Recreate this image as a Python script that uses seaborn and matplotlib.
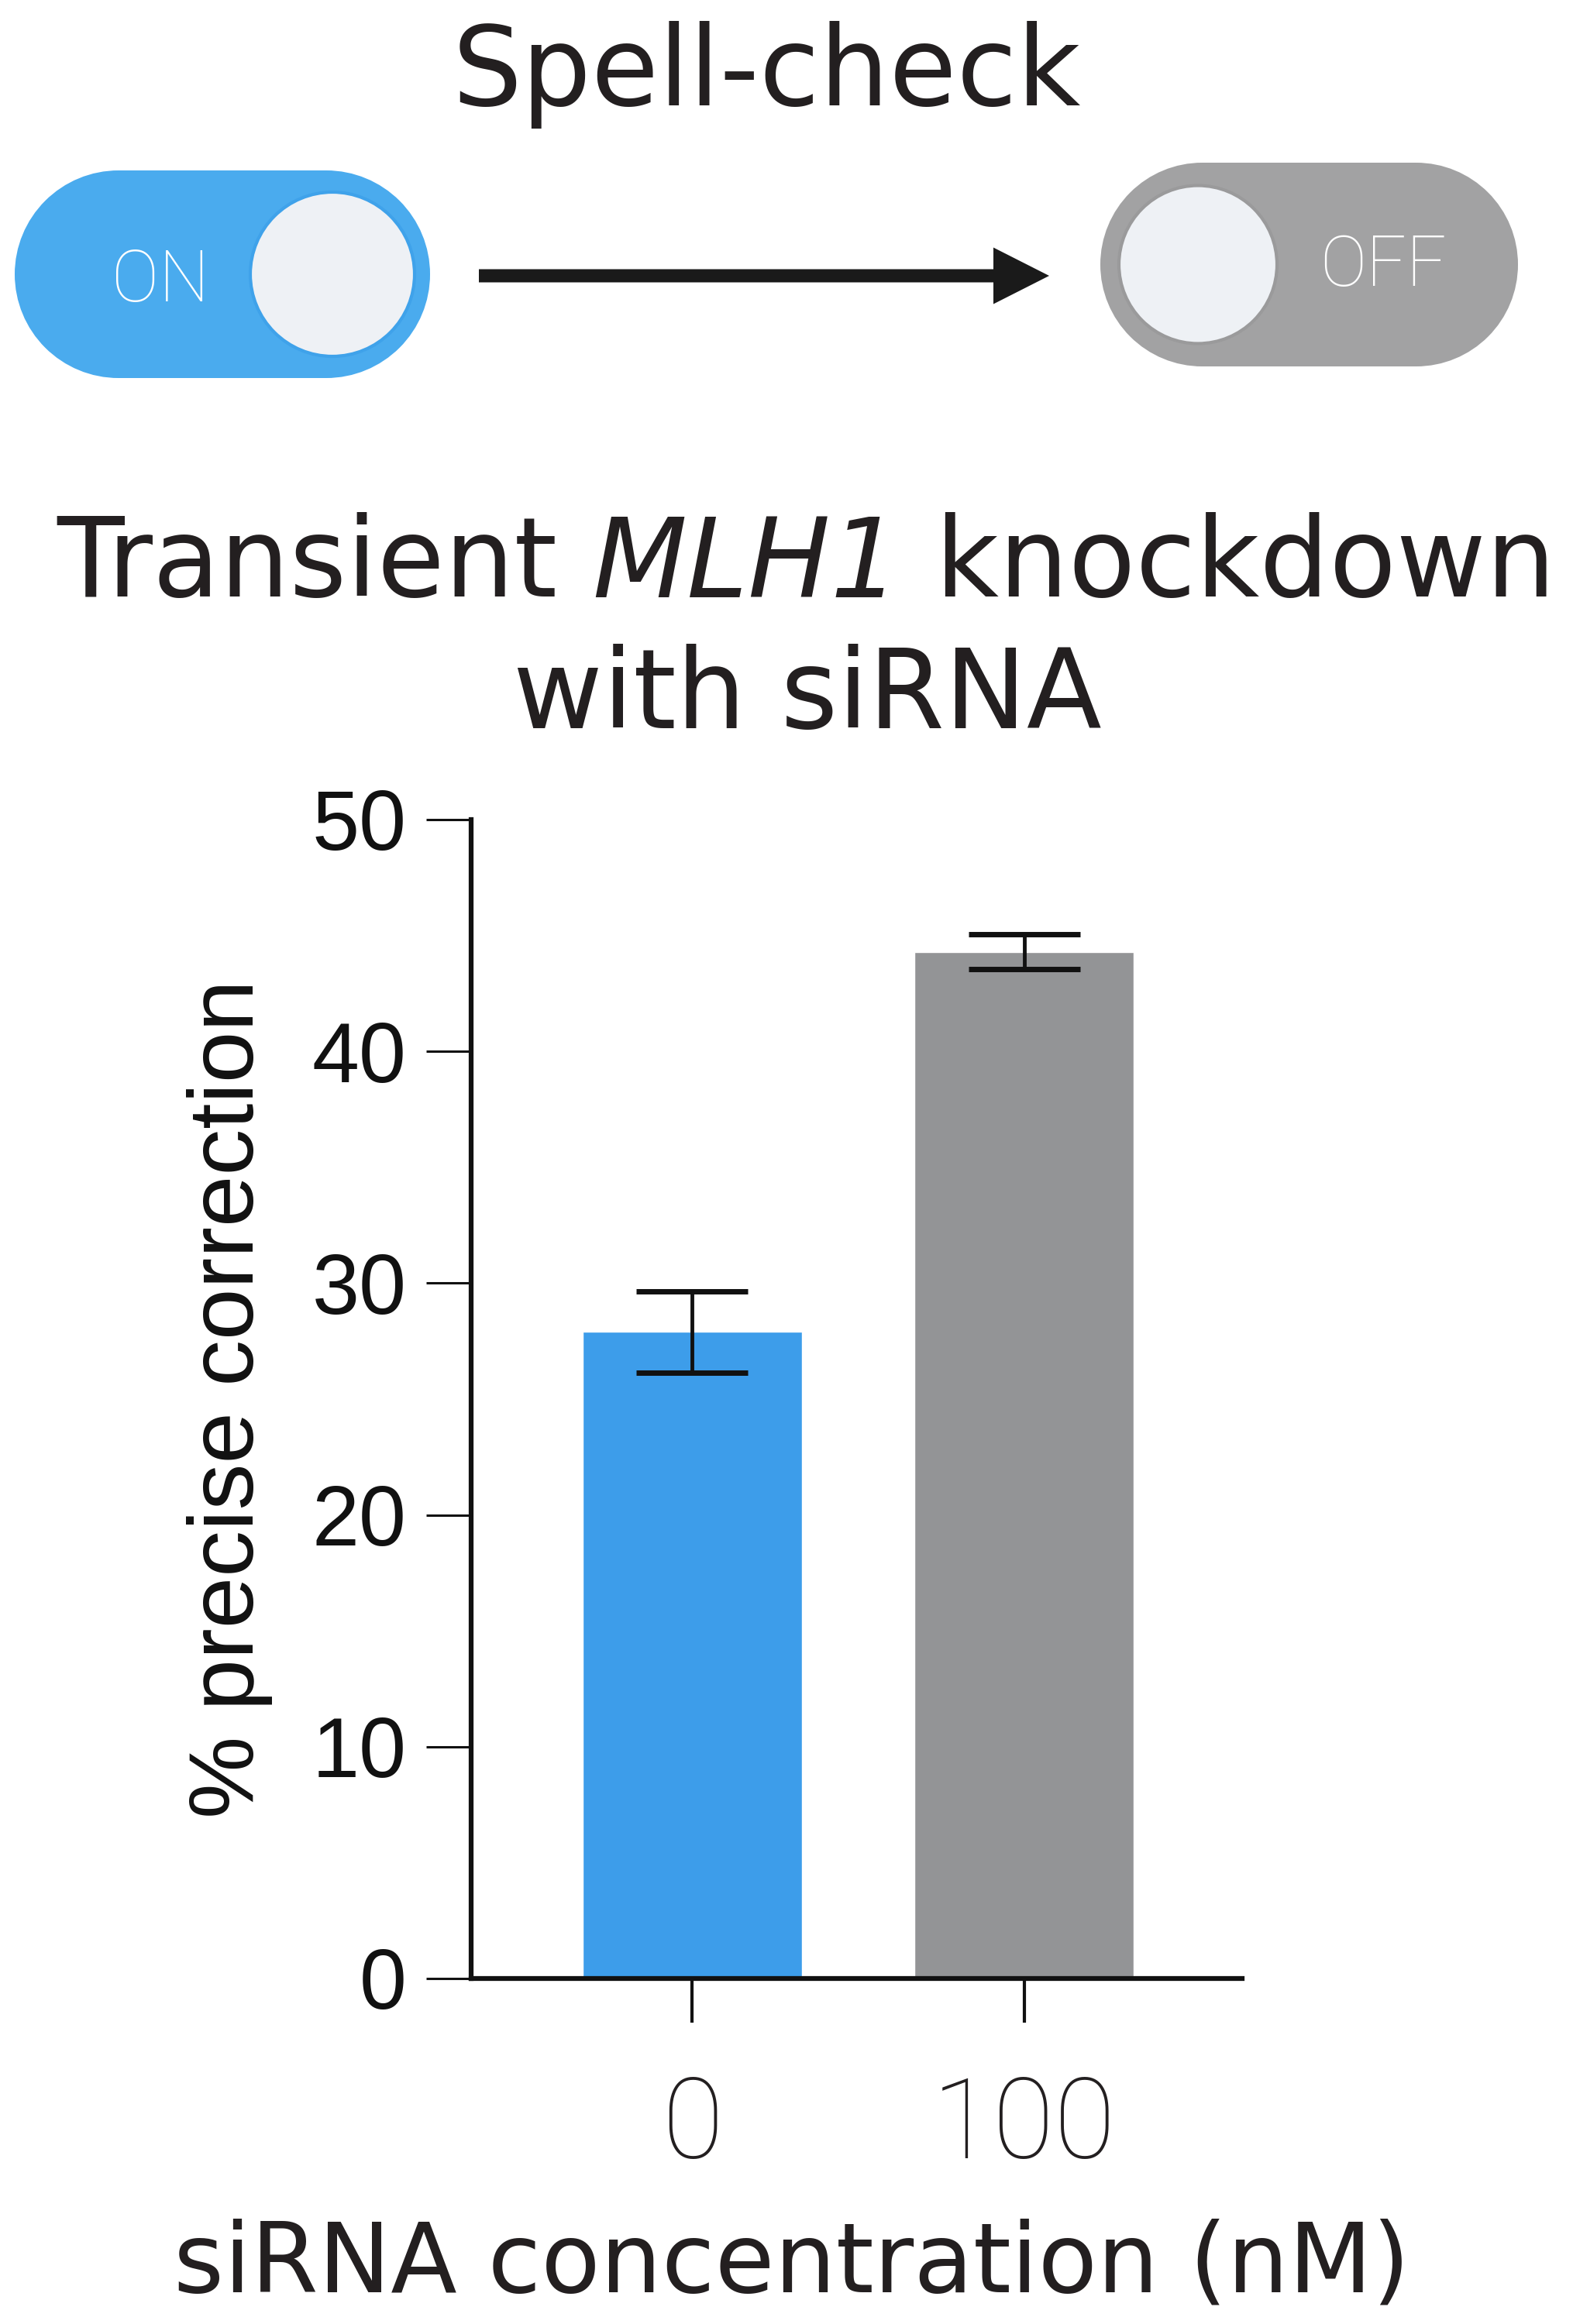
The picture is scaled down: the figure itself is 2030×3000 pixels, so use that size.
"""
Spell-check panel: transient MLH1 knockdown bar chart with ON -> OFF toggle header.
Saves out.png (2030x3000).
"""
import numpy as np
import pandas as pd
import matplotlib
matplotlib.use("Agg")
import matplotlib.pyplot as plt
import matplotlib.patches as mpatches
import seaborn as sns

# ── Data ───────────────────────────────────────────────────────────────────────
concentrations = ["0", "100"]          # siRNA concentration (nM)
mean_correction = [27.9, 44.3]         # % precise correction
err_correction = [1.75, 0.75]          # error bar half-width
bar_colors = ["#3d9dea", "#939496"]

y_ticks = [0, 10, 20, 30, 40, 50]

sns.set_theme(style="ticks")
plt.rcParams["font.family"] = ["DejaVu Sans"]
LIGHT = ["Roboto", "DejaVu Sans"]

W, H = 2030, 3000
fig = plt.figure(figsize=(W / 100, H / 100), dpi=100)

# ── Header: toggles + arrow (pixel coordinates overlay) ───────────────────────
over = fig.add_axes([0, 0, 1, 1], zorder=0)
over.set_xlim(0, W)
over.set_ylim(H, 0)
over.axis("off")


def toggle(ax, x0, x1, y0, y1, fill, knob_x, knob_r, edge):
    r = (y1 - y0) / 2
    yc = (y0 + y1) / 2
    ax.add_patch(mpatches.Rectangle((x0 + r, y0), x1 - x0 - 2 * r, 2 * r,
                                    facecolor=fill, edgecolor="none"))
    ax.add_patch(mpatches.Circle((x0 + r, yc), r, facecolor=fill, edgecolor="none"))
    ax.add_patch(mpatches.Circle((x1 - r, yc), r, facecolor=fill, edgecolor="none"))
    ax.add_patch(mpatches.Circle((knob_x, yc), knob_r, facecolor="#eef1f5",
                                 edgecolor=edge, linewidth=3))


toggle(over, 19, 555, 220, 488, "#4aabee", 429, 106, "#3fa2ea")
over.text(207, 364, "ON", color="white", fontsize=66, fontweight="light",
          ha="center", va="center", family=LIGHT)
toggle(over, 1420, 1959, 210, 473, "#a2a2a3", 1546, 102, "#9a9a9b")
over.text(1785, 344, "OFF", color="white", fontsize=65, fontweight="light",
          ha="center", va="center", family=LIGHT)

over.add_patch(mpatches.FancyArrow(618, 356, 736, 0, width=17, head_width=73,
                                   head_length=72, length_includes_head=True,
                                   color="#1a1a1a", linewidth=0))

over.text(989, 97, "Spell-check", fontsize=102, ha="center", va="center",
          color="#231f20")

# title with italic gene name, built from three pieces
t1 = over.text(73, 800, "Transient ", fontsize=102, ha="left", va="bottom",
               color="#231f20")
t2 = over.annotate("MLH1", xy=(1, 0), xycoords=t1, fontsize=102, style="italic",
                   ha="left", va="bottom", color="#231f20")
over.annotate(" knockdown", xy=(1, 0), xycoords=t2, fontsize=102,
              ha="left", va="bottom", color="#231f20")
over.text(1042, 900, "with siRNA", fontsize=102, ha="center", va="center",
          color="#231f20")

# ── Bar chart ─────────────────────────────────────────────────────────────────
ax = fig.add_axes([608 / W, 1 - 2554 / H, (1603 - 608) / W, (2554 - 1058) / H],
                  zorder=1)
ax.patch.set_alpha(0)

df = pd.DataFrame({"conc": concentrations, "value": mean_correction})
sns.barplot(data=df, x="conc", y="value", hue="conc", palette=bar_colors,
            order=concentrations, hue_order=concentrations, legend=False,
            errorbar=None, width=0.66, saturation=1, ax=ax, zorder=2)
ax.errorbar(np.arange(len(concentrations)), mean_correction, yerr=err_correction,
            fmt="none", ecolor="#111111", elinewidth=3.5, capsize=52,
            capthick=5, zorder=3)

ax.set_xlim(-0.666, 1.656)
ax.set_ylim(0, 50)
ax.set_yticks(y_ticks)
sns.despine(ax=ax)
for side in ("left", "bottom"):
    ax.spines[side].set_linewidth(4.5)
    ax.spines[side].set_color("#111111")

ax.tick_params(axis="y", length=42, width=2.2, pad=18, colors="#111111",
               labelsize=79)
ax.tick_params(axis="x", length=41, width=3, pad=48, colors="#111111",
               labelsize=104)
for lab in ax.get_yticklabels():
    lab.set_family(["Liberation Sans", "DejaVu Sans"])
for lab in ax.get_xticklabels():
    lab.set_family(LIGHT)
    lab.set_fontweight("light")
    lab.set_color("#231f20")

ax.set_ylabel("% precise correction", fontsize=86,
              family=["Liberation Sans", "DejaVu Sans"], color="#111111")
ax.yaxis.set_label_coords(-0.257, 0.5)
ax.set_xlabel("siRNA concentration (nM)", fontsize=90, color="#231f20")
ax.xaxis.set_label_coords(0.416, -0.207)

fig.savefig("out.png", dpi=100)
